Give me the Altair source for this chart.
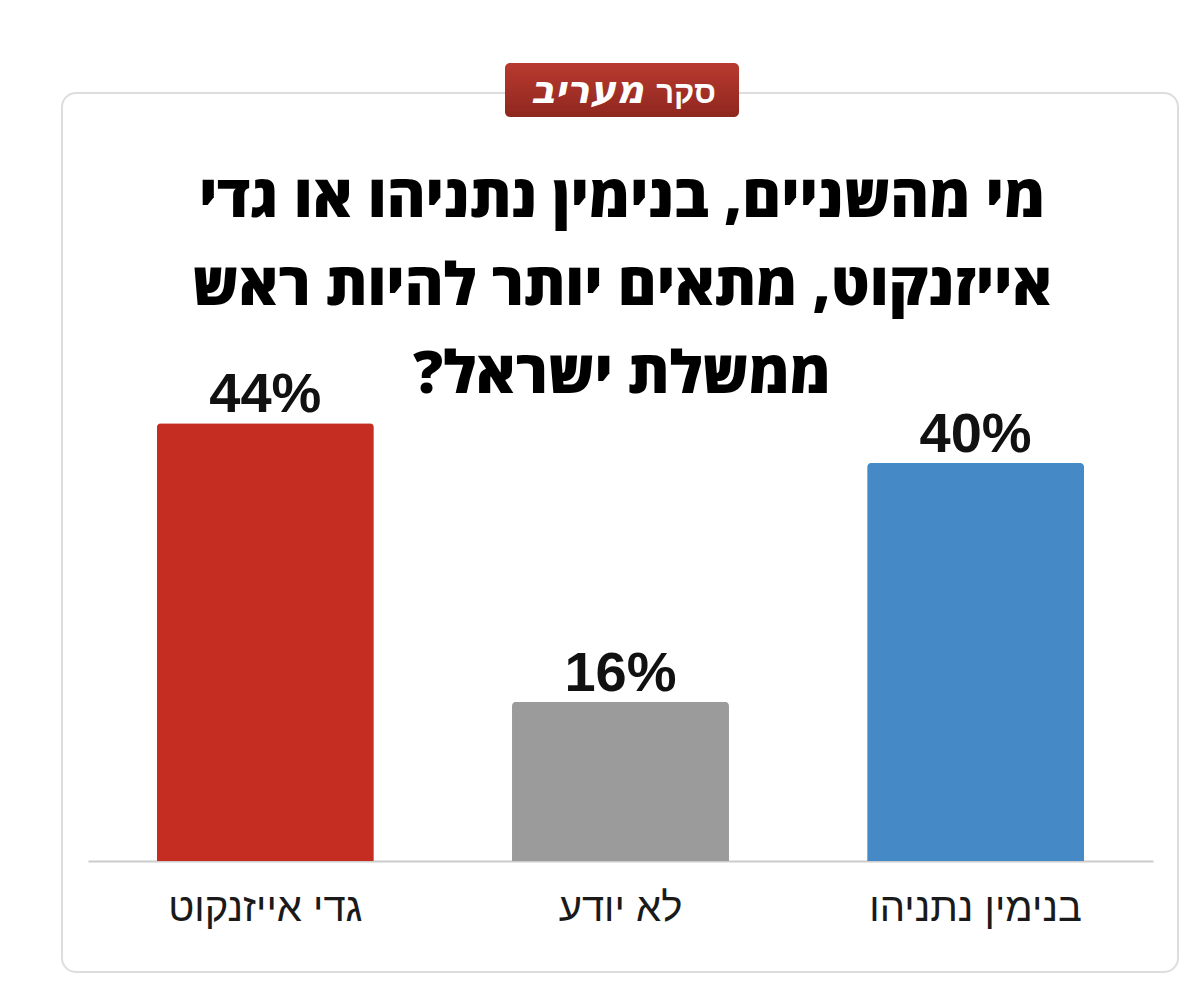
import altair as alt
import pandas as pd

categories = ["גדי אייזנקוט", "לא יודע", "בנימין נתניהו"]
values = [44, 16, 40]
value_labels = ["44%", "16%", "40%"]
colors = ["#c52d22", "#9b9b9b", "#4589c6"]

title_lines = [
    "מי מהשניים, בנימין נתניהו או גדי",
    "אייזנקוט, מתאים יותר להיות ראש",
    "ממשלת ישראל?\u200f",
]
badge_word1 = "סקר"
badge_word2 = "מעריב"

df = pd.DataFrame({"cat": categories, "val": values, "lab": value_labels, "col": colors})
one = pd.DataFrame({"k": [0]})

x_enc = alt.X("cat:N", sort=categories,
              scale=alt.Scale(paddingInner=0.389, paddingOuter=0.194),
              axis=alt.Axis(title=None, ticks=False, domainColor="#cccccc", domainWidth=2,
                            labelFont="Liberation Sans", labelFontSize=40, labelLimit=0,
                            labelColor="#1a1a1a", labelBaseline="alphabetic",
                            labelPadding=59, labelAngle=0))
y_enc = alt.Y("val:Q", scale=alt.Scale(domain=[0, 60]), axis=None)

card = alt.Chart(one).mark_rect(cornerRadius=14, fill="white", fillOpacity=0,
                                stroke="#dddddd", strokeWidth=2).encode(
    x=alt.value(-26), x2=alt.value(1090), y=alt.value(-171), y2=alt.value(708))

badge = alt.Chart(one).mark_rect(
    cornerRadius=5,
    fill=alt.Gradient(gradient="linear", x1=0, x2=0, y1=0, y2=1,
                      stops=[alt.GradientStop(color="#b93a2f", offset=0),
                             alt.GradientStop(color="#8e271f", offset=1)])).encode(
    x=alt.value(417), x2=alt.value(651), y=alt.value(-201), y2=alt.value(-147))

badge_t1 = alt.Chart(one).mark_text(text=badge_word1, font="Liberation Sans", fontWeight="bold",
                                    fontSize=31, color="white", align="right",
                                    baseline="alphabetic").encode(
    x=alt.value(628), y=alt.value(-161))
badge_t2 = alt.Chart(one).mark_text(text=badge_word2, font="DejaVu Sans", fontWeight="bold",
                                    fontStyle="italic", fontSize=39, color="white", align="right",
                                    baseline="alphabetic").encode(
    x=alt.value(556), y=alt.value(-161))

title_layers = []
for line, yy in zip(title_lines, [-47, 41, 129]):
    title_layers.append(
        alt.Chart(one).mark_text(text=line, font="Open Sans, DejaVu Sans", fontWeight=800,
                                 fontSize=59, color="#000000", align="center",
                                 baseline="alphabetic").encode(
            x=alt.value(534), y=alt.value(yy)))

bars = alt.Chart(df).mark_bar(cornerRadiusTopLeft=4, cornerRadiusTopRight=4).encode(
    x=x_enc, y=y_enc, color=alt.Color("col:N", scale=None))

texts = alt.Chart(df).mark_text(font="Liberation Sans", fontWeight="bold", fontSize=56,
                                color="#111111", baseline="alphabetic", dy=-11).encode(
    x=x_enc, y=y_enc, text="lab:N")

chart = alt.layer(card, badge, badge_t1, badge_t2, *title_layers, bars, texts).properties(
    width=1065, height=597,
    autosize=alt.AutoSizeParams(type="none"),
    padding={"left": 80, "top": 256, "right": 39, "bottom": 128},
    background="white",
).configure_view(stroke=None)

chart.save("out.html", embed_options={"renderer": "svg", "actions": False})
